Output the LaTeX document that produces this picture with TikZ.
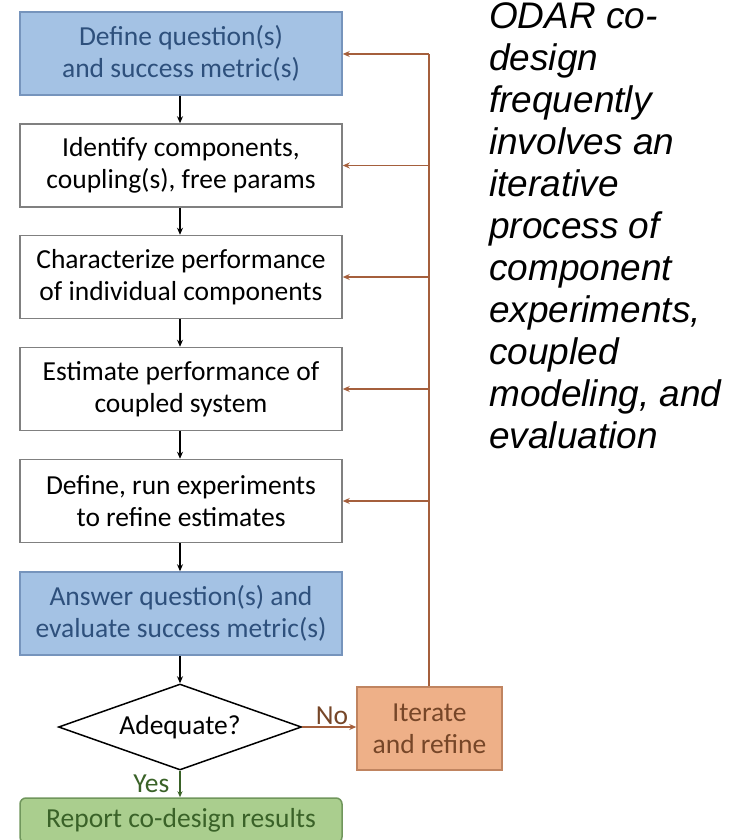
\documentclass[tikz,border=0pt]{standalone}
\usepackage{fontspec}
\setmainfont{Carlito}
\newfontfamily\notefont{Liberation Sans}
\usetikzlibrary{shapes.geometric,arrows.meta}

\definecolor{bluefill}{RGB}{164,194,228}
\definecolor{blueline}{RGB}{118,148,188}
\definecolor{bluetext}{RGB}{46,80,124}
\definecolor{grayline}{RGB}{128,128,128}
\definecolor{orfill}{RGB}{238,176,136}
\definecolor{orline}{RGB}{192,132,96}
\definecolor{ortext}{RGB}{118,70,40}
\definecolor{loopline}{RGB}{165,95,60}
\definecolor{grfill}{RGB}{170,206,142}
\definecolor{grline}{RGB}{112,150,92}
\definecolor{grtext}{RGB}{58,98,40}

\tikzset{
  boxtext/.style={font=\fontsize{27.5}{32}\selectfont, align=center},
  stepbox/.style={boxtext, draw=grayline, line width=1.5pt, fill=white,
    minimum width=322pt, minimum height=83pt, inner sep=0pt},
  keybox/.style={stepbox, draw=blueline, fill=bluefill, text=bluetext},
  iterbox/.style={boxtext, draw=orline, line width=1.5pt, fill=orfill, text=ortext,
    minimum width=145pt, minimum height=83pt, inner sep=0pt},
  donebox/.style={boxtext, draw=grline, line width=1.5pt, fill=grfill, text=grtext,
    rounded corners=6pt, minimum width=322pt, minimum height=45pt, inner sep=0pt},
  decide/.style={boxtext, diamond, draw=black, line width=1.5pt, fill=white,
    aspect=2.83, minimum width=243pt, minimum height=86pt, inner sep=0pt},
  flow/.style={draw=black, line width=1.5pt, -{Stealth[length=7pt,width=6pt]}},
  back/.style={draw=loopline, line width=1.5pt, -{Stealth[length=7pt,width=6pt]}},
}

\begin{document}
\begin{tikzpicture}[x=1pt, y=-1pt]
  \useasboundingbox (0,0) rectangle (746,840);
  \clip (0,0) rectangle (746,840);

  % main sequence of steps
  \node[keybox]  (q)   at (181,53.5) {Define question(s)\\and success metric(s)};
  \node[stepbox] (ids) at (181,165.5) {Identify components,\\coupling(s), free params};
  \node[stepbox] (chr) at (181,277) {Characterize performance\\of individual components};
  \node[stepbox] (est) at (181,389) {Estimate performance of\\coupled system};
  \node[stepbox] (exp) at (181,501) {Define, run experiments\\to refine estimates};
  \node[keybox]  (ans) at (181,613.5) {Answer question(s) and\\evaluate success metric(s)};
  \node[decide]  (ok)  at (180,727) {Adequate?};
  \node[iterbox] (it)  at (429.5,728.5) {Iterate\\and refine};
  \node[donebox] (rep) at (181,820.5) {Report co-design results};

  % forward arrows
  \draw[flow] (q.south -| ok.north) -- (ids.north -| ok.north);
  \draw[flow] (ids.south -| ok.north) -- (chr.north -| ok.north);
  \draw[flow] (chr.south -| ok.north) -- (est.north -| ok.north);
  \draw[flow] (est.south -| ok.north) -- (exp.north -| ok.north);
  \draw[flow] (exp.south -| ok.north) -- (ans.north -| ok.north);
  \draw[flow] (ans.south -| ok.north) -- (ok.north);

  % decision outcomes
  \draw[back] (ok.east) -- node[above, pos=0.55, font=\fontsize{27.5}{32}\selectfont, text=ortext, inner sep=2pt] {No} (it.west |- ok.east);
  \draw[draw=grtext, line width=1.5pt, -{Stealth[length=6pt,width=5pt]}] (ok.south) -- node[left, pos=0.5, font=\fontsize{27.5}{32}\selectfont, text=grtext, inner sep=0pt, xshift=-10pt] {Yes} (rep.north -| ok.south);

  % feedback loop
  \coordinate (top) at (429,54);
  \draw[draw=loopline, line width=1.5pt] (it.north -| top) -- (top);
  \draw[back] (top) -- (q.east |- top);
  \draw[back] (top |- ids.east) -- (ids.east);
  \draw[back] (top |- chr.east) -- (chr.east);
  \draw[back] (top |- est.east) -- (est.east);
  \draw[back] (top |- exp.east) -- (exp.east);

  % side note
  \node[anchor=north west, inner sep=0pt, align=left,
        font=\notefont\itshape\fontsize{37}{42}\selectfont] (note) at (489,2)
    {ODAR co-\\design\\frequently\\involves an\\iterative\\process of\\component\\experiments,\\coupled\\modeling, and\\evaluation};
\end{tikzpicture}
\end{document}
